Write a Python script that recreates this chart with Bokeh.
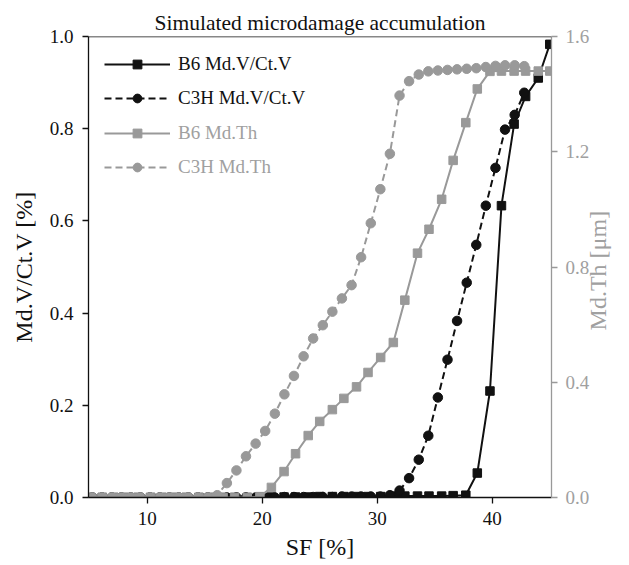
import math
from bokeh.plotting import figure
from bokeh.models import (Range1d, LinearAxis, FixedTicker, Span, Legend, LegendItem,
                          PrintfTickFormatter)
from bokeh.embed import file_html
from bokeh.resources import INLINE

# ---------------- data ----------------
b6_sf = [5.0, 6.1, 7.1, 8.2, 9.2, 10.3, 11.3, 12.4, 13.4, 14.5, 15.5, 16.6, 17.6, 18.7,
         19.8, 20.8, 21.9, 22.9, 24.0, 25.0, 26.1, 27.1, 28.2, 29.2, 30.3, 31.4, 32.4,
         33.5, 34.5, 35.6, 36.6, 37.7, 38.7, 39.8, 40.8, 41.9, 42.9, 44.0, 45.0]
b6_mdv = [0.0, 0.0, 0.0, 0.0, 0.0, 0.0, 0.0, 0.0, 0.0, 0.0, 0.0, 0.0, 0.0, 0.0,
          0.001, 0.001, 0.001, 0.001, 0.001, 0.002, 0.002, 0.002, 0.002, 0.002, 0.002,
          0.003, 0.003, 0.003, 0.003, 0.003, 0.004, 0.005, 0.053, 0.231, 0.633, 0.81,
          0.87, 0.91, 0.983]
b6_mdth = [0.0, 0.0, 0.0, 0.0, 0.0, 0.0, 0.0, 0.0, 0.0, 0.0, 0.0, 0.0, 0.0, 0.0,
           0.003, 0.035, 0.090, 0.152, 0.215, 0.264, 0.305, 0.344, 0.384, 0.434, 0.486,
           0.538, 0.685, 0.848, 0.931, 1.035, 1.170, 1.301, 1.418, 1.479, 1.480, 1.480,
           1.480, 1.480, 1.480]

c3h_sf = [5.25, 6.08, 6.92, 7.75, 8.59, 9.42, 10.25, 11.09, 11.92, 12.76, 13.59, 14.42,
          15.26, 16.09, 16.93, 17.76, 18.59, 19.43, 20.26, 21.10, 21.93, 22.76, 23.60,
          24.43, 25.27, 26.10, 26.93, 27.77, 28.60, 29.44, 30.27, 31.10, 31.94, 32.77,
          33.61, 34.44, 35.27, 36.11, 36.94, 37.78, 38.61, 39.44, 40.28, 41.11, 41.95, 42.78]
c3h_mdv = [0.0, 0.0, 0.0, 0.0, 0.0, 0.0, 0.0, 0.0, 0.0, 0.0, 0.0, 0.0, 0.0, 0.0, 0.0,
           0.0, 0.0, 0.0, 0.0, 0.0, 0.001, 0.001, 0.001, 0.001, 0.001, 0.001, 0.002,
           0.002, 0.002, 0.002, 0.002, 0.005, 0.015, 0.042, 0.082, 0.134, 0.217, 0.299,
           0.383, 0.466, 0.548, 0.633, 0.715, 0.798, 0.830, 0.878]
c3h_mdth = [0.0, 0.0, 0.0, 0.0, 0.0, 0.0, 0.0, 0.0, 0.0, 0.0, 0.0, 0.0, 0.0, 0.008,
            0.050, 0.094, 0.143, 0.187, 0.231, 0.291, 0.358, 0.422, 0.490, 0.552, 0.598,
            0.645, 0.691, 0.737, 0.834, 0.952, 1.070, 1.193, 1.395, 1.445, 1.468, 1.479,
            1.482, 1.484, 1.486, 1.488, 1.490, 1.494, 1.498, 1.500, 1.500, 1.497]

x_ticks = [10, 20, 30, 40]
left_ticks = [0.0, 0.2, 0.4, 0.6, 0.8, 1.0]
right_ticks = [0.0, 0.4, 0.8, 1.2, 1.6]

BLACK = "#111111"
GRAY = "#999999"
GRAY_TXT = "#a0a0a0"
FONT = "Liberation Serif"

p = figure(width=629, height=565, x_range=Range1d(4.9, 45.15), y_range=Range1d(0, 1),
           output_backend="svg", toolbar_location=None,
           min_border_left=88, min_border_right=78, min_border_top=36, min_border_bottom=68)
p.extra_y_ranges = {"th": Range1d(0, 1.6)}
p.outline_line_color = None
p.xgrid.visible = False
p.ygrid.visible = False
p.background_fill_color = "white"
p.border_fill_color = "white"

p.title.text = "Simulated microdamage accumulation"
p.title.align = "center"
p.title.text_font = FONT
p.title.text_font_size = "21.5px"
p.title.text_font_style = "normal"
p.title.text_color = BLACK
p.title.standoff = 4

def style_axis(ax, color, txt_color):
    ax.axis_line_color = color
    ax.axis_line_width = 1.3
    ax.major_tick_line_color = color
    ax.major_tick_line_width = 1.3
    ax.major_tick_out = 6
    ax.major_tick_in = 0
    ax.minor_tick_line_color = None
    ax.major_label_text_font = FONT
    ax.major_label_text_font_size = "19px"
    ax.major_label_text_color = txt_color
    ax.axis_label_text_font = FONT
    ax.axis_label_text_font_size = "24px"
    ax.axis_label_text_font_style = "normal"
    ax.axis_label_text_color = txt_color

xa = p.xaxis[0]
style_axis(xa, BLACK, BLACK)
xa.ticker = FixedTicker(ticks=x_ticks)
xa.axis_label = "SF [%]"
xa.major_label_standoff = 8
xa.axis_label_standoff = 6

ya = p.yaxis[0]
style_axis(ya, BLACK, BLACK)
ya.ticker = FixedTicker(ticks=left_ticks)
ya.formatter = PrintfTickFormatter(format="%.1f")
ya.axis_label = "Md.V/Ct.V [%]"
ya.major_label_standoff = 9
ya.axis_label_standoff = 10

ra = LinearAxis(y_range_name="th")
style_axis(ra, GRAY, GRAY_TXT)
ra.ticker = FixedTicker(ticks=right_ticks)
ra.formatter = PrintfTickFormatter(format="%.1f")
ra.major_label_standoff = 8
p.add_layout(ra, "right")

# right-axis title (reads bottom to top), drawn as the single label of a bare axis
title_pos = 0.58
ra_title = LinearAxis(y_range_name="th", ticker=FixedTicker(ticks=[title_pos]),
                      major_label_overrides={title_pos: "Md.Th [μm]"},
                      major_label_orientation=math.pi / 2)
ra_title.axis_line_color = None
ra_title.major_tick_line_color = None
ra_title.minor_tick_line_color = None
ra_title.major_tick_out = 0
ra_title.major_tick_in = 0
ra_title.major_label_standoff = 6
ra_title.major_label_text_font = FONT
ra_title.major_label_text_font_size = "24px"
ra_title.major_label_text_color = GRAY_TXT
p.add_layout(ra_title, "right")

p.add_layout(Span(location=1.0, dimension="width", line_color=BLACK, line_width=1.3))

l1 = p.line(b6_sf, b6_mdv, line_color=BLACK, line_width=2)
s1 = p.scatter(b6_sf, b6_mdv, marker="square", size=8.5, fill_color=BLACK, line_color=BLACK)
l2 = p.line(c3h_sf, c3h_mdv, line_color=BLACK, line_width=2, line_dash="7 4")
s2 = p.scatter(c3h_sf, c3h_mdv, marker="circle", size=9.5, fill_color=BLACK, line_color=BLACK)
l3 = p.line(b6_sf, b6_mdth, line_color=GRAY, line_width=2, y_range_name="th")
s3 = p.scatter(b6_sf, b6_mdth, marker="square", size=8.5, fill_color=GRAY, line_color=GRAY,
               y_range_name="th")
l4 = p.line(c3h_sf, c3h_mdth, line_color=GRAY, line_width=2, line_dash="7 4", y_range_name="th")
s4 = p.scatter(c3h_sf, c3h_mdth, marker="circle", size=9.5, fill_color=GRAY, line_color=GRAY,
               y_range_name="th")

def make_legend(items, loc, color):
    lg = Legend(items=items, location=loc, padding=0, margin=0, spacing=12,
                glyph_width=66, glyph_height=22, label_height=22, label_standoff=8,
                border_line_color=None, background_fill_alpha=0,
                label_text_font=FONT, label_text_font_size="19px", label_text_color=color)
    return lg

leg1 = make_legend([LegendItem(label="B6 Md.V/Ct.V", renderers=[l1, s1]),
                    LegendItem(label="C3H Md.V/Ct.V", renderers=[l2, s2])], (16, 388), BLACK)
leg2 = make_legend([LegendItem(label="B6 Md.Th", renderers=[l3, s3]),
                    LegendItem(label="C3H Md.Th", renderers=[l4, s4])], (16, 319), GRAY_TXT)
p.add_layout(leg1)
p.add_layout(leg2)

open("out.html", "w").write(file_html(p, INLINE))
